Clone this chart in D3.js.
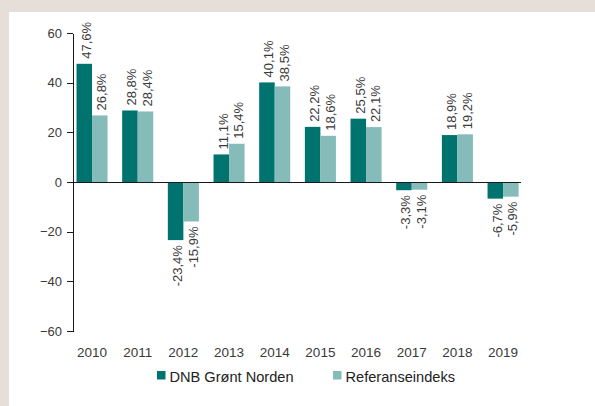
<!DOCTYPE html>
<html>
<head>
    <meta charset="utf-8">
    <script src="https://cdn.jsdelivr.net/npm/d3@7/dist/d3.min.js"></script>
    <style type="text/css">
        body {
            margin: 0;
            background: #ffffff;
        }

        text {
            font-family: "Liberation Sans", Arial, sans-serif;
            fill: #3a3a3a;
        }

        .axis path,
        .axis line {
            stroke: #1a1a1a;
            shape-rendering: crispEdges;
        }
    </style>
</head>

<body>
    <svg id="chart"></svg>
    <script>
        var years = ["2010", "2011", "2012", "2013", "2014", "2015", "2016", "2017", "2018", "2019"];
        var fund = [47.6, 28.8, -23.4, 11.1, 40.1, 22.2, 25.5, -3.3, 18.9, -6.7];
        var index = [26.8, 28.4, -15.9, 15.4, 38.5, 18.6, 22.1, -3.1, 19.2, -5.9];
        var seriesNames = ["DNB Grønt Norden", "Referanseindeks"];
        var yTicks = [60, 40, 20, 0, -20, -40, -60];

        var colors = ["#00736e", "#85bbb8"];
        var W = 595, H = 406;

        var svg = d3.select("#chart")
            .attr("width", W)
            .attr("height", H);

        // beige frame on top and left
        svg.append("rect").attr("x", 0).attr("y", 0).attr("width", W).attr("height", 12).attr("fill", "#e6ded8");
        svg.append("rect").attr("x", 0).attr("y", 0).attr("width", 9).attr("height", H).attr("fill", "#e6ded8");

        var axisX = 73, axisEnd = 521;

        var y = d3.scaleLinear()
            .domain([-60, 60])
            .range([331, 33]);

        var x = d3.scaleBand()
            .domain(years)
            .range([69.2, 525.9])
            .paddingInner(0.32)
            .paddingOuter(0.16);

        var xs = d3.scaleBand()
            .domain([0, 1])
            .range([0, x.bandwidth()]);

        var rows = years.map(function(yr, i) {
            return { year: yr, vals: [fund[i], index[i]] };
        });

        var group = svg.selectAll(".grp")
            .data(rows)
            .enter()
            .append("g")
            .attr("class", "grp")
            .attr("transform", function(d) {
                return "translate(" + x(d.year) + ",0)";
            });

        var cell = group.selectAll("g")
            .data(function(d) {
                return d.vals.map(function(v, k) { return { v: v, k: k }; });
            })
            .enter()
            .append("g");

        cell.append("rect")
            .attr("x", function(d) { return xs(d.k); })
            .attr("width", xs.bandwidth())
            .attr("y", function(d) { return y(Math.max(0, d.v)); })
            .attr("height", function(d) { return Math.abs(y(d.v) - y(0)); })
            .attr("fill", function(d) { return colors[d.k]; });

        cell.append("text")
            .attr("transform", function(d) {
                var cx = xs(d.k) + xs.bandwidth() / 2 + 2;
                var cy = d.v >= 0 ? y(d.v) - 5 : y(d.v) + 5;
                return "translate(" + cx + "," + cy + ") rotate(-90)";
            })
            .attr("text-anchor", function(d) { return d.v >= 0 ? "start" : "end"; })
            .attr("dominant-baseline", "central")
            .style("font-size", "13px")
            .text(function(d) { return String(d.v.toFixed(1)).replace(".", ",") + "%"; });

        // y axis
        var yAxis = d3.axisLeft(y)
            .tickValues(yTicks)
            .tickSize(6)
            .tickSizeOuter(0)
            .tickPadding(5);

        var gy = svg.append("g")
            .attr("class", "axis")
            .attr("transform", "translate(" + axisX + ",0)")
            .call(yAxis);
        gy.selectAll("text").style("font-size", "13px").style("fill", "#3a3a3a");

        // zero line
        svg.append("line")
            .attr("x1", axisX).attr("x2", axisEnd)
            .attr("y1", Math.round(y(0)) + 0.5).attr("y2", Math.round(y(0)) + 0.5)
            .attr("stroke", "#1a1a1a");

        // year labels
        svg.selectAll(".yr")
            .data(years)
            .enter()
            .append("text")
            .attr("class", "yr")
            .attr("x", function(d) { return x(d) + x.bandwidth() / 2; })
            .attr("y", 357)
            .attr("text-anchor", "middle")
            .style("font-size", "13.5px")
            .text(function(d) { return d; });

        // legend
        var legX = [157, 333];
        var leg = svg.selectAll(".leg")
            .data(seriesNames)
            .enter()
            .append("g")
            .attr("class", "leg")
            .attr("transform", function(d, i) { return "translate(" + legX[i] + ",371)"; });

        leg.append("rect")
            .attr("width", 8.5)
            .attr("height", 8.5)
            .attr("fill", function(d, i) { return colors[i]; });

        leg.append("text")
            .attr("x", 12.5)
            .attr("y", 10.7)
            .style("font-size", "14.6px")
            .style("fill", "#222")
            .text(function(d) { return d; });
    </script>
</body>
</html>
